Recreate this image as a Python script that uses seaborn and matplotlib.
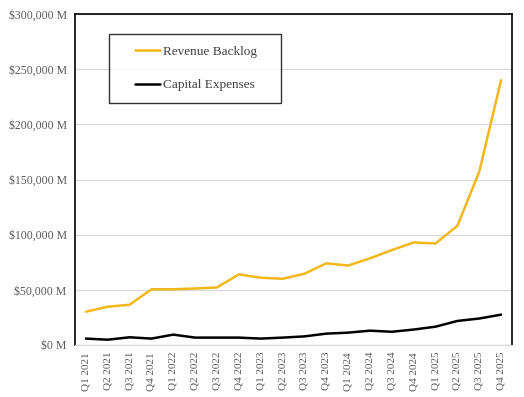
import matplotlib
matplotlib.use("Agg")
import matplotlib.pyplot as plt
import seaborn as sns
import pandas as pd
from matplotlib.ticker import FuncFormatter
from matplotlib.legend_handler import HandlerLine2D
from matplotlib.lines import Line2D

quarters = ["Q1 2021", "Q2 2021", "Q3 2021", "Q4 2021",
            "Q1 2022", "Q2 2022", "Q3 2022", "Q4 2022",
            "Q1 2023", "Q2 2023", "Q3 2023", "Q4 2023",
            "Q1 2024", "Q2 2024", "Q3 2024", "Q4 2024",
            "Q1 2025", "Q2 2025", "Q3 2025", "Q4 2025"]
revenue_backlog = [30200, 34700, 36500, 50500, 50500, 51200, 52200, 64000,
                   61000, 60000, 64600, 74000, 72000, 78600, 86000, 93000,
                   92000, 108000, 157000, 240000]
capital_expenses = [5800, 4800, 7000, 5800, 9400, 6700, 6700, 6700,
                    5800, 6700, 7800, 10300, 11200, 13000, 12000, 14000,
                    16600, 21800, 24000, 27500]
series_names = ["Revenue Backlog", "Capital Expenses"]
colors = ["#F2B81A", "#000000"]

df = pd.DataFrame({
    "Quarter": quarters * 2,
    "Value": revenue_backlog + capital_expenses,
    "Series": [series_names[0]] * len(quarters) + [series_names[1]] * len(quarters),
})

sns.set_theme(style="white")
plt.rcParams["font.family"] = ["Liberation Serif", "DejaVu Serif"]

fig = plt.figure(figsize=(5.24, 3.97), dpi=100)
ax = fig.add_axes([75/524, 52/397, 437/524, 331/397])

sns.lineplot(data=df, x="Quarter", y="Value", hue="Series", palette=colors,
             linewidth=1.8, sort=False, ax=ax)

ax.set_xlim(-0.5, len(quarters) - 0.5)
ax.set_ylim(0, 300000)
ax.set_yticks(range(0, 300001, 50000))
ax.yaxis.set_major_formatter(FuncFormatter(lambda v, p: f"${v:,.0f} M"))
ax.grid(axis="y", color="#d9d9d9", linewidth=0.9)
ax.set_axisbelow(True)
ax.set_xlabel("")
ax.set_ylabel("")
ax.tick_params(axis="x", labelrotation=90, labelsize=8, colors="#595959", length=0, pad=5)
ax.tick_params(axis="y", labelsize=8.5, colors="#595959", length=0, pad=6)

for s in ["left", "top", "right"]:
    ax.spines[s].set_color("black")
    ax.spines[s].set_linewidth(1.2)
ax.spines["bottom"].set_color("#d9d9d9")
ax.spines["bottom"].set_linewidth(0.9)

handles, labels = ax.get_legend_handles_labels()
leg = ax.legend(handles, labels, loc="upper left",
                bbox_to_anchor=(0.0778, 0.94 - 0.196, 0.3936, 0.196),
                mode="expand", frameon=True,
                fancybox=False, edgecolor="black", fontsize=9.5,
                labelspacing=1.6, handlelength=3.0, handletextpad=0.2,
                borderpad=0.9, borderaxespad=0,
                handler_map={Line2D: HandlerLine2D(xpad=1.1)})
leg.get_frame().set_linewidth(1.0)
for t in leg.get_texts():
    t.set_color("#404040")
for h in leg.get_lines():
    h.set_linewidth(1.8)

fig.savefig("out.png", dpi=100)
